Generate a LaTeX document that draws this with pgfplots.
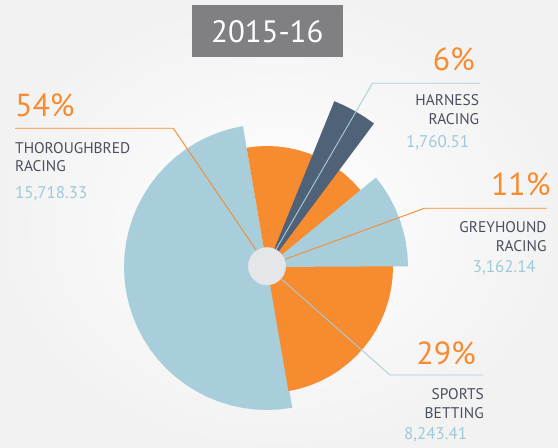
\documentclass[border=0pt]{standalone}
\usepackage{pgfplots}
\pgfplotsset{compat=1.18}
\usepackage{fontspec}
\setmainfont{PT Sans}
\definecolor{cOr}{HTML}{F68B2F}
\definecolor{cLb}{HTML}{A8CEDB}
\definecolor{cDk}{HTML}{4F6278}
\definecolor{cCir}{HTML}{E4E6E9}
\definecolor{cBox}{HTML}{808083}
\definecolor{cTxt}{HTML}{4A4F5C}
\definecolor{cNum}{HTML}{9DCAD8}
\begin{document}
\begin{tikzpicture}
\begin{axis}[x=1bp,y=1bp,xmin=-267,xmax=291,ymin=-181,ymax=267,
  hide axis, clip=false]
% background
\shade[inner color=white, outer color=black!5] (axis cs:-267,-181) rectangle (axis cs:291,267);
% Thoroughbred 54%
\addplot[data cs=polar, draw=none, fill=cLb] coordinates {(0,0) (99.7,143) (105,143) (110,143) (115,143) (120,143) (125,143) (130,143) (135,143) (140,143) (145,143) (150,143) (155,143) (160,143) (165,143) (170,143) (175,143) (180,143) (185,143) (190,143) (195,143) (200,143) (205,143) (210,143) (215,143) (220,143) (225,143) (230,143) (235,143) (240,143) (245,143) (250,143) (255,143) (260,143) (265,143) (270,143) (275,143) (280.2,143) (0,0)} -- cycle;
% orange background piece
\addplot[data cs=polar, draw=none, fill=cOr] coordinates {(0,0) (20,121) (25,121) (30,121) (35,121) (40,121) (45,121) (50,121) (55,121) (60,121) (65,121) (70,121) (75,121) (80,121) (85,121) (90,121) (95,121) (99.7,121) (0,0)} -- cycle;
% Sports betting 29%
\addplot[data cs=polar, draw=none, fill=cOr] coordinates {(0,0) (-80.2,126) (-75,126) (-70,126) (-65,126) (-60,126) (-55,126) (-50,126) (-45,126) (-40,126) (-35,126) (-30,126) (-25,126) (-20,126) (-15,126) (-10,126) (-5,126) (0,126) (5,126) (10,126) (15,126) (20,126) (0,0)} -- cycle;
% Greyhound 11%
\addplot[data cs=polar, draw=none, fill=cLb] coordinates {(0,0) (0.3,141) (5,141) (10,141) (15,141) (20,141) (25,141) (30,141) (35,141) (39.4,141) (0,0)} -- cycle;
% Harness 6%
\addplot[data cs=polar, draw=none, fill=cDk] coordinates {(0,0) (53.3,179) (57,179) (61,179) (64.5,179) (67.9,179) (0,0)} -- cycle;
% leader lines
\addplot[cOr, line width=0.9bp] coordinates {(-252,138.7) (-93.7,138.7) (-9.7,15.3)};
\addplot[cLb, line width=0.9bp] coordinates {(8.7,17) (105.4,183.7) (213,183.7)};
\addplot[cOr, line width=0.9bp] coordinates {(18,7.7) (157.3,58.7) (279.7,58.7)};
\addplot[cLb, line width=0.9bp] coordinates {(14.7,-12.3) (123,-108) (216.3,-108)};
% centre disc
\addplot[only marks, color=cCir, mark=*, mark size=18.7bp, mark options={draw=cCir, fill=cCir}] coordinates {(0,0.8)};
% title
\fill[cBox] (axis cs:-75,210.3) rectangle (axis cs:75.7,262);
\node[anchor=base, text=white, font=\fontsize{31}{31}\selectfont] at (axis cs:0.3,224.3) {2015-16};
% labels
\node[anchor=base west, text=cOr, inner sep=0, font=\fontsize{32}{32}\selectfont] at (axis cs:-252,150.3) {54\%};
\node[anchor=base west, text=cTxt, inner sep=0, font=\fontsize{15.5}{15.5}\selectfont] at (axis cs:-252,113.7) {THOROUGHBRED};
\node[anchor=base west, text=cTxt, inner sep=0, font=\fontsize{15.5}{15.5}\selectfont] at (axis cs:-252,95) {RACING};
\node[anchor=base west, text=cNum, inner sep=0, font=\fontsize{17}{17}\selectfont] at (axis cs:-252,68.7) {15,718.33};

\node[anchor=base east, text=cOr, inner sep=0, font=\fontsize{32}{32}\selectfont] at (axis cs:208,196.3) {6\%};
\node[anchor=base east, text=cTxt, inner sep=0, font=\fontsize{15.5}{15.5}\selectfont] at (axis cs:212.3,161) {HARNESS};
\node[anchor=base east, text=cTxt, inner sep=0, font=\fontsize{15.5}{15.5}\selectfont] at (axis cs:212.3,142) {RACING};
\node[anchor=base west, text=cNum, inner sep=0, font=\fontsize{17}{17}\selectfont] at (axis cs:139,119) {1,760.51};

\node[anchor=base east, text=cOr, inner sep=0, font=\fontsize{32}{32}\selectfont] at (axis cs:283.7,71) {11\%};
\node[anchor=base east, text=cTxt, inner sep=0, font=\fontsize{15.5}{15.5}\selectfont] at (axis cs:279.7,34.7) {GREYHOUND};
\node[anchor=base east, text=cTxt, inner sep=0, font=\fontsize{15.5}{15.5}\selectfont] at (axis cs:279.7,15.3) {RACING};
\node[anchor=base west, text=cNum, inner sep=0, font=\fontsize{17}{17}\selectfont] at (axis cs:205.7,-6) {3,162.14};

\node[anchor=base east, text=cOr, inner sep=0, font=\fontsize{32}{32}\selectfont] at (axis cs:209,-98) {29\%};
\node[anchor=base east, text=cTxt, inner sep=0, font=\fontsize{15.5}{15.5}\selectfont] at (axis cs:217,-133) {SPORTS};
\node[anchor=base east, text=cTxt, inner sep=0, font=\fontsize{15.5}{15.5}\selectfont] at (axis cs:217,-152) {BETTING};
\node[anchor=base west, text=cNum, inner sep=0, font=\fontsize{17}{17}\selectfont] at (axis cs:137,-173) {8,243.41};
\end{axis}
\end{tikzpicture}
\end{document}
